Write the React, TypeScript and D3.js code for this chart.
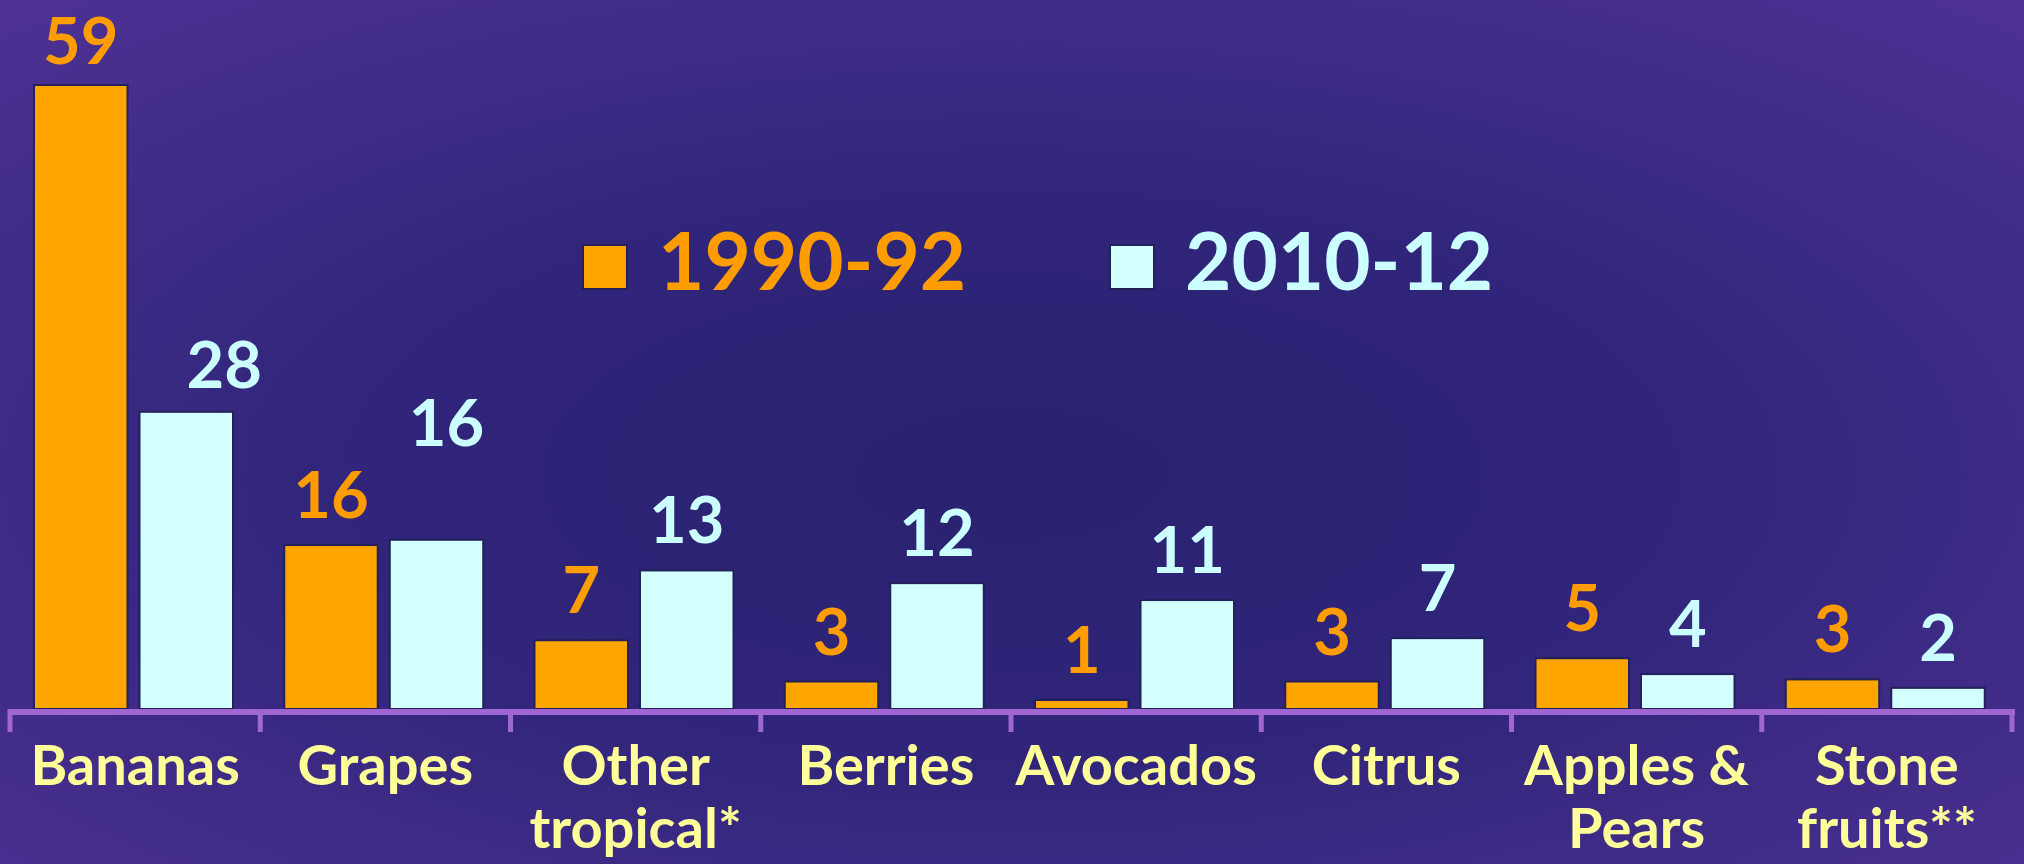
import React from "react";
import * as d3 from "d3";

const categories = ["Bananas", "Grapes", "Other tropical*", "Berries", "Avocados", "Citrus", "Apples & Pears", "Stone fruits**"];
const categoryLines = [["Bananas"], ["Grapes"], ["Other", "tropical*"], ["Berries"], ["Avocados"], ["Citrus"], ["Apples &", "Pears"], ["Stone", "fruits**"]];
const series = ["1990-92", "2010-12"];
const values1990 = [59, 15.5, 6.5, 2.6, 0.85, 2.6, 4.8, 2.8];
const values2010 = [28.1, 16.0, 13.1, 11.9, 10.3, 6.7, 3.3, 2.0];
const labels1990 = ["59", "16", "7", "3", "1", "3", "5", "3"];
const labels2010 = ["28", "16", "13", "12", "11", "7", "4", "2"];

// layout-only nudges for hand-placed value labels [series]-[category] -> [dx, dy]
const labelNudge: Record<string, [number, number]> = {
  "0-0": [0, 6],
  "1-0": [38, 3],
  "1-1": [10, -67],
};

const W = 2024;
const H = 864;
const FONT = "'Comic Sans MS', Lato, 'Noto Sans', sans-serif";
const seriesFill = ["#ffa500", "#d4ffff"];
const seriesText = ["#ff9c00", "#ccffff"];

export default function App() {
  const x = d3.scaleBand<string>().domain(categories).range([10, 2012]).padding(0);
  const xs = d3.scaleBand<string>().domain(series).range([24, 223]).paddingInner(0.114).paddingOuter(0);
  const y = d3.scaleLinear().domain([0, 59]).range([709, 85]);
  const data = [values1990, values2010];
  const labels = [labels1990, labels2010];
  const ticks = categories.map((c) => x(c) as number).concat([x.range()[1]]);

  return (
    <svg width={W} height={H} style={{ position: "fixed", left: 0, top: 0, display: "block" }}>
      <defs>
        <radialGradient id="bg" cx="0.5" cy="0.55" r="0.72" gradientUnits="objectBoundingBox">
          <stop offset="0" stopColor="#2a2270" />
          <stop offset="0.45" stopColor="#30257a" />
          <stop offset="1" stopColor="#4c3192" />
        </radialGradient>
      </defs>
      <rect x={0} y={0} width={W} height={H} fill="url(#bg)" />

      {/* bars */}
      {series.map((s, si) => (
        <g key={s}>
          {categories.map((c, ci) => {
            const v = data[si][ci];
            const bx = (x(c) as number) + (xs(s) as number);
            return (
              <rect
                key={c}
                x={bx}
                y={y(v)}
                width={xs.bandwidth()}
                height={y(0) - y(v)}
                fill={seriesFill[si]}
                stroke="#22215a"
                strokeWidth={2}
              />
            );
          })}
        </g>
      ))}

      {/* value labels */}
      {series.map((s, si) => (
        <g key={"l" + s}>
          {categories.map((c, ci) => {
            const v = data[si][ci];
            const nudge = labelNudge[`${si}-${ci}`] || [0, 0];
            const cx = (x(c) as number) + (xs(s) as number) + xs.bandwidth() / 2 + nudge[0];
            return (
              <text
                key={c}
                x={cx}
                y={y(v) - 27 + nudge[1]}
                textAnchor="middle"
                fontFamily={FONT}
                fontWeight={700}
                fontSize={65}
                fill={seriesText[si]}
              >
                {labels[si][ci]}
              </text>
            );
          })}
        </g>
      ))}

      {/* axis */}
      <line x1={8} x2={2015} y1={712} y2={712} stroke="#a066d2" strokeWidth={6} />
      {ticks.map((t, i) => (
        <rect key={i} x={t - 2.5} y={709} width={5} height={23} fill="#a066d2" />
      ))}

      {/* category labels */}
      {categories.map((c, ci) => (
        <text
          key={c}
          x={(x(c) as number) + x.bandwidth() / 2}
          y={785}
          textAnchor="middle"
          fontFamily={FONT}
          fontWeight={700}
          fontSize={56}
          fill="#ffff99"
        >
          {categoryLines[ci].map((ln, li) => (
            <tspan key={li} x={(x(c) as number) + x.bandwidth() / 2} dy={li === 0 ? 0 : 63}>
              {ln}
            </tspan>
          ))}
        </text>
      ))}

      {/* legend */}
      {series.map((s, si) => {
        const lx = [583, 1110][si];
        return (
          <g key={"leg" + s}>
            <rect x={lx} y={245} width={44} height={44} fill={seriesFill[si]} stroke="#22215a" strokeWidth={2} />
            <text x={lx + 75} y={290} fontFamily={FONT} fontWeight={700} fontSize={80} fill={seriesText[si]}>
              {s}
            </text>
          </g>
        );
      })}
    </svg>
  );
}
